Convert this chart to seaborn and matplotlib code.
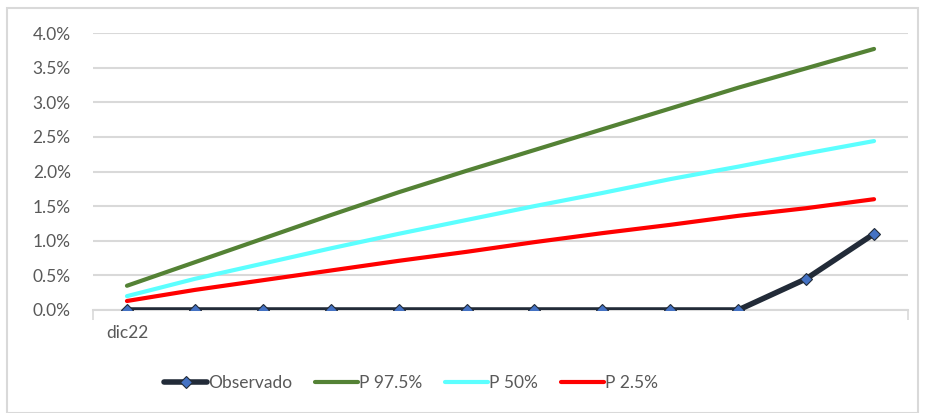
import matplotlib
matplotlib.use("Agg")
import matplotlib.pyplot as plt
import seaborn as sns
import pandas as pd
import numpy as np
from matplotlib.patches import Rectangle
from matplotlib.ticker import FuncFormatter

periods = list(range(12))
tick_labels = ["dic22"]
observado = [0, 0, 0, 0, 0, 0, 0, 0, 0, 0, 0.45, 1.10]
p975 = [0.35, 0.69, 1.03, 1.37, 1.70, 2.01, 2.31, 2.61, 2.91, 3.21, 3.49, 3.77]
p50 = [0.20, 0.45, 0.67, 0.89, 1.10, 1.30, 1.50, 1.69, 1.89, 2.07, 2.26, 2.44]
p25 = [0.13, 0.29, 0.43, 0.57, 0.71, 0.84, 0.98, 1.11, 1.23, 1.36, 1.47, 1.60]

sns.set_theme(style="white")
plt.rcParams['font.family'] = ['Lato', 'DejaVu Sans']

W, H = 925, 413
fig = plt.figure(figsize=(W / 100, H / 100), dpi=100)
ax = fig.add_axes([93 / W, (H - 310) / H, (908 - 93) / W, (310 - 33) / H])

df = pd.DataFrame({"x": periods, "Observado": observado, "P 97.5%": p975,
                   "P 50%": p50, "P 2.5%": p25})

sns.lineplot(data=df, x="x", y="Observado", ax=ax, color="#222B38", lw=4,
             marker="D", markersize=6, markerfacecolor="#4472C4",
             markeredgecolor="#222B38", markeredgewidth=0.8, label="Observado", zorder=5)
sns.lineplot(data=df, x="x", y="P 97.5%", ax=ax, color="#548235", lw=3, label="P 97.5%")
sns.lineplot(data=df, x="x", y="P 50%", ax=ax, color="#5CFFFF", lw=3, label="P 50%")
sns.lineplot(data=df, x="x", y="P 2.5%", ax=ax, color="#FF0000", lw=3, label="P 2.5%")

ax.set_xlim(-0.5, 11.5)
ax.set_ylim(0, 4.0)
ax.set_yticks(np.arange(0, 4.01, 0.5))
ax.yaxis.set_major_formatter(FuncFormatter(lambda v, p: f"{v:.1f}%"))
ax.set_xticks([-0.5, 11.5])
ax.set_xticklabels(["", ""])
ax.tick_params(axis="x", length=7, width=1.2, color="#D9D9D9", bottom=True)
ax.tick_params(axis="y", length=0, labelsize=12.5, labelcolor="#595959", pad=16)
ax.text(0, -0.33, tick_labels[0], ha="center", va="center", fontsize=12.5, color="#595959")
ax.grid(axis="y", color="#D9D9D9", lw=1.5)
ax.set_axisbelow(True)
for s in ["top", "right", "left"]:
    ax.spines[s].set_visible(False)
ax.spines["bottom"].set_color("#D9D9D9")
ax.spines["bottom"].set_linewidth(1.5)
ax.set_xlabel("")
ax.set_ylabel("")

handles, labels = ax.get_legend_handles_labels()
ax.legend_.remove()
fig.legend(handles, labels, loc="center", bbox_to_anchor=(411 / W, (H - 383) / H),
           ncol=4, frameon=False, fontsize=12.5, handlelength=2.5, handletextpad=0.05,
           columnspacing=1.3, labelcolor="#595959")

fig.patches.append(Rectangle((7 / W, 0), (918 - 7) / W, (H - 8) / H, transform=fig.transFigure,
                             fill=False, edgecolor="#D9D9D9", lw=1.5))

fig.savefig("out.png", dpi=100)
